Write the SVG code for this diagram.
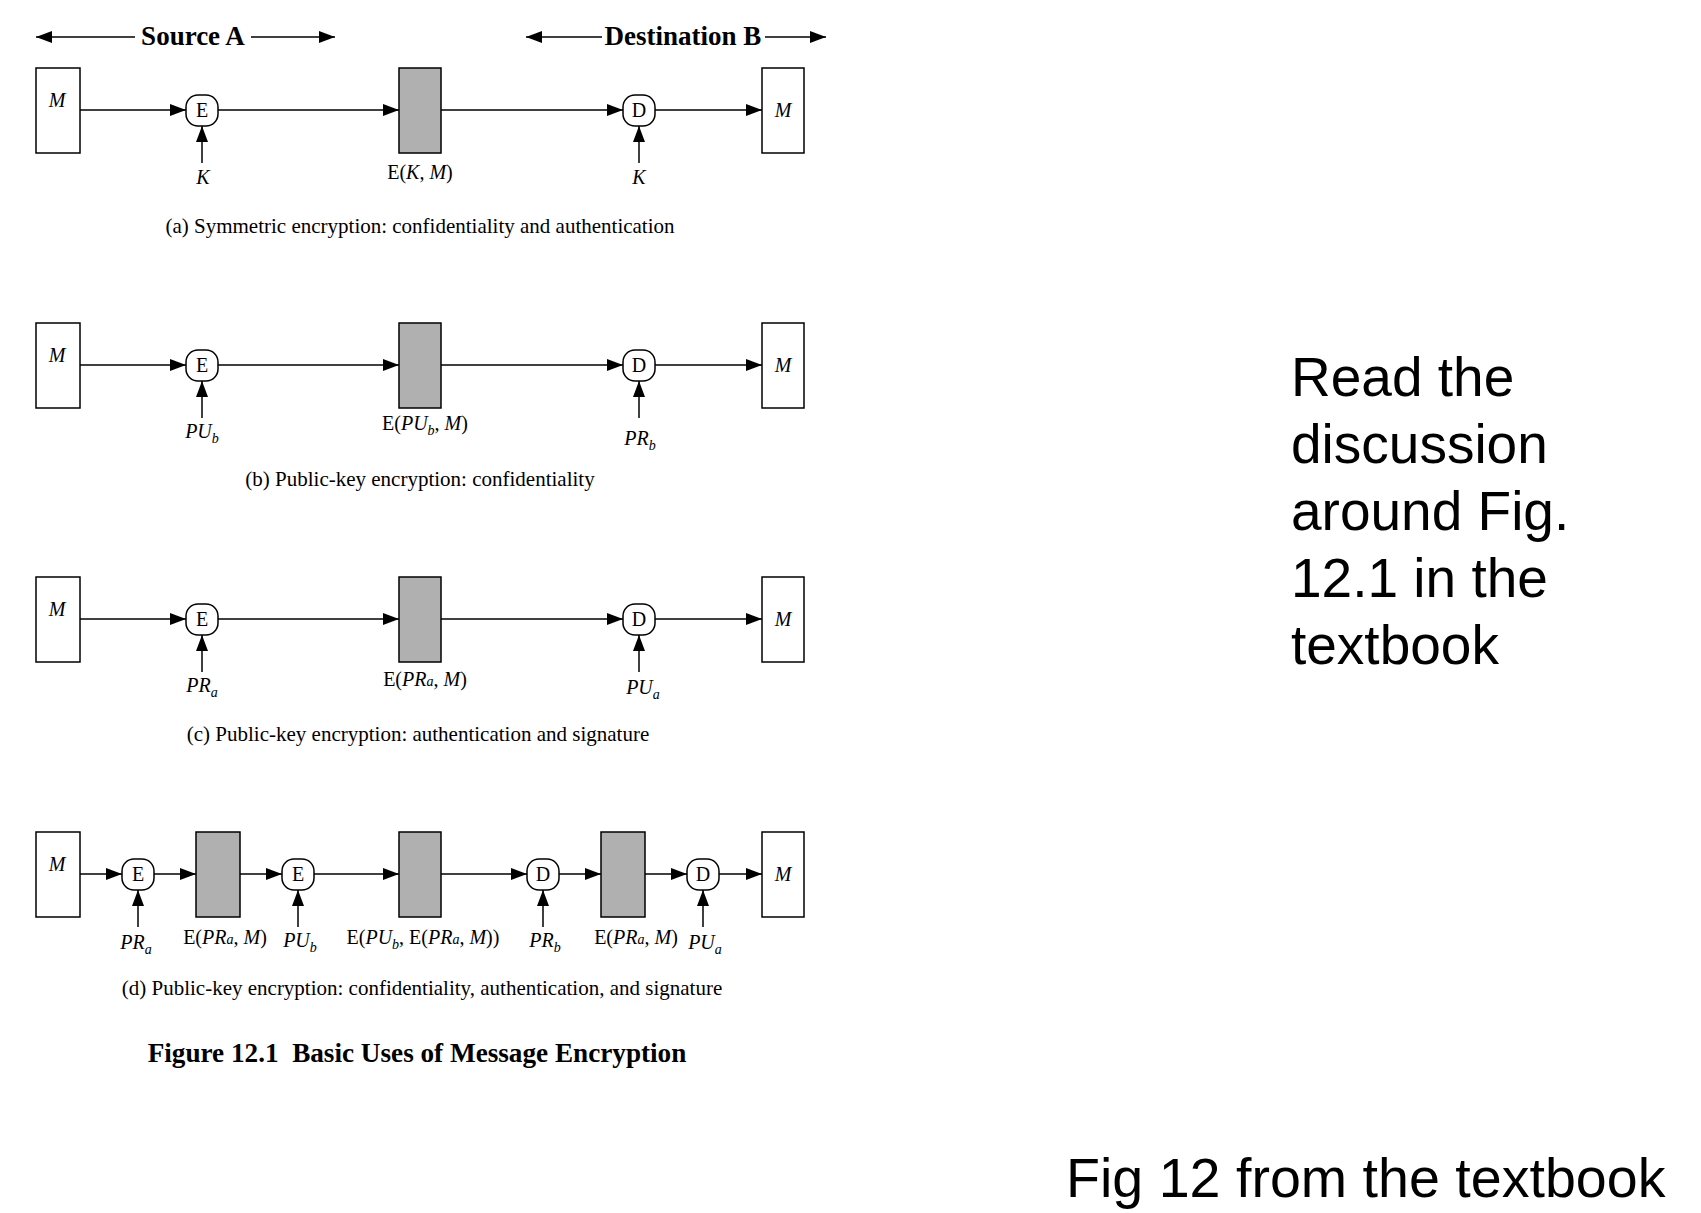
<svg xmlns="http://www.w3.org/2000/svg" width="1701" height="1213" viewBox="0 0 1701 1213">
<style>
.s{font-family:"Liberation Serif","Times New Roman",serif;fill:#000}
.lbl{font-size:20px}
.it{font-style:italic}
.sub{font-size:14px;font-style:italic}
.cap{font-size:21px}
.hdr{font-size:27px;font-weight:bold}
.ttl{font-size:27.2px;font-weight:bold}
.side{font-family:"Liberation Sans",Arial,sans-serif;font-size:55px;fill:#000}
.foot{font-family:"Liberation Sans",Arial,sans-serif;font-size:55.6px;fill:#000}
.box{fill:#fff;stroke:#000;stroke-width:1.5}
.gray{fill:#b0b0b0;stroke:#000;stroke-width:1.5}
.nd{fill:#fff;stroke:#000;stroke-width:1.5}
.ln{stroke:#000;stroke-width:1.5;fill:none;marker-end:url(#ah)}
.ls{stroke:#000;stroke-width:1.5;fill:none;marker-start:url(#ahs)}
</style>
<defs>
<marker id="ah" markerUnits="userSpaceOnUse" markerWidth="17" markerHeight="13" refX="16" refY="6" orient="auto"><path d="M0,0 L16,6 L0,12 z" fill="#000"/></marker>
<marker id="ahs" markerUnits="userSpaceOnUse" markerWidth="17" markerHeight="13" refX="16" refY="6" orient="auto-start-reverse"><path d="M0,0 L16,6 L0,12 z" fill="#000"/></marker>
</defs>
<rect width="1701" height="1213" fill="#fff"/>

<g id="connectors">
<line class="ls" x1="36" y1="37" x2="135" y2="37"/>
<line class="ln" x1="251" y1="37" x2="335" y2="37"/>
<line class="ls" x1="526" y1="37" x2="602" y2="37"/>
<line class="ln" x1="765" y1="37" x2="826" y2="37"/>
<line class="ln" x1="80" y1="110" x2="186" y2="110"/>
<line class="ln" x1="218" y1="110" x2="399" y2="110"/>
<line class="ln" x1="441" y1="110" x2="623" y2="110"/>
<line class="ln" x1="655" y1="110" x2="762" y2="110"/>
<line class="ln" x1="202" y1="163" x2="202" y2="126"/>
<line class="ln" x1="639" y1="163" x2="639" y2="126"/>
<line class="ln" x1="80" y1="365" x2="186" y2="365"/>
<line class="ln" x1="218" y1="365" x2="399" y2="365"/>
<line class="ln" x1="441" y1="365" x2="623" y2="365"/>
<line class="ln" x1="655" y1="365" x2="762" y2="365"/>
<line class="ln" x1="202" y1="418" x2="202" y2="381"/>
<line class="ln" x1="639" y1="418" x2="639" y2="381"/>
<line class="ln" x1="80" y1="619" x2="186" y2="619"/>
<line class="ln" x1="218" y1="619" x2="399" y2="619"/>
<line class="ln" x1="441" y1="619" x2="623" y2="619"/>
<line class="ln" x1="655" y1="619" x2="762" y2="619"/>
<line class="ln" x1="202" y1="672" x2="202" y2="635"/>
<line class="ln" x1="639" y1="672" x2="639" y2="635"/>
<line class="ln" x1="80" y1="874" x2="122" y2="874"/>
<line class="ln" x1="154" y1="874" x2="196" y2="874"/>
<line class="ln" x1="240" y1="874" x2="282" y2="874"/>
<line class="ln" x1="314" y1="874" x2="399" y2="874"/>
<line class="ln" x1="441" y1="874" x2="527" y2="874"/>
<line class="ln" x1="559" y1="874" x2="601" y2="874"/>
<line class="ln" x1="645" y1="874" x2="687" y2="874"/>
<line class="ln" x1="719" y1="874" x2="762" y2="874"/>
<line class="ln" x1="138" y1="927" x2="138" y2="890"/>
<line class="ln" x1="298" y1="927" x2="298" y2="890"/>
<line class="ln" x1="543" y1="927" x2="543" y2="890"/>
<line class="ln" x1="703" y1="927" x2="703" y2="890"/>
</g>

<g id="header">
<text class="s hdr" x="193" y="45" text-anchor="middle">Source A</text>
<text class="s hdr" x="683" y="45" text-anchor="middle">Destination B</text>
</g>

<g id="a-src-M"><rect class="box" x="36" y="68" width="44" height="85"/><text class="s lbl it" x="57" y="107" text-anchor="middle">M</text></g>
<g id="a-E"><rect class="nd" x="186" y="95" width="32" height="31" rx="12"/><text class="s lbl" x="202" y="117" text-anchor="middle">E</text></g>
<g id="a-cipher"><rect class="gray" x="399" y="68" width="42" height="85"/></g>
<g id="a-D"><rect class="nd" x="623" y="95" width="32" height="31" rx="12"/><text class="s lbl" x="639" y="117" text-anchor="middle">D</text></g>
<g id="a-dst-M"><rect class="box" x="762" y="68" width="42" height="85"/><text class="s lbl it" x="783" y="117" text-anchor="middle">M</text></g>
<g id="a-labels">
<text class="s lbl it" x="203" y="184" text-anchor="middle">K</text>
<text class="s lbl" x="420" y="179" text-anchor="middle">E(<tspan class="it">K</tspan>, <tspan class="it">M</tspan>)</text>
<text class="s lbl it" x="639" y="184" text-anchor="middle">K</text>
<text class="s cap" x="420" y="233" text-anchor="middle">(a) Symmetric encryption: confidentiality and authentication</text>
</g>

<g id="b-src-M"><rect class="box" x="36" y="323" width="44" height="85"/><text class="s lbl it" x="57" y="362" text-anchor="middle">M</text></g>
<g id="b-E"><rect class="nd" x="186" y="350" width="32" height="31" rx="12"/><text class="s lbl" x="202" y="372" text-anchor="middle">E</text></g>
<g id="b-cipher"><rect class="gray" x="399" y="323" width="42" height="85"/></g>
<g id="b-D"><rect class="nd" x="623" y="350" width="32" height="31" rx="12"/><text class="s lbl" x="639" y="372" text-anchor="middle">D</text></g>
<g id="b-dst-M"><rect class="box" x="762" y="323" width="42" height="85"/><text class="s lbl it" x="783" y="372" text-anchor="middle">M</text></g>
<g id="b-labels">
<text class="s lbl it" x="202" y="438" text-anchor="middle">PU<tspan class="sub" dy="5">b</tspan></text>
<text class="s lbl" x="425" y="430" text-anchor="middle">E(<tspan class="it">PU</tspan><tspan class="sub" dy="5">b</tspan><tspan dy="-5">, </tspan><tspan class="it">M</tspan>)</text>
<text class="s lbl it" x="640" y="445" text-anchor="middle">PR<tspan class="sub" dy="5">b</tspan></text>
<text class="s cap" x="420" y="486" text-anchor="middle">(b) Public-key encryption: confidentiality</text>
</g>

<g id="c-src-M"><rect class="box" x="36" y="577" width="44" height="85"/><text class="s lbl it" x="57" y="616" text-anchor="middle">M</text></g>
<g id="c-E"><rect class="nd" x="186" y="604" width="32" height="31" rx="12"/><text class="s lbl" x="202" y="626" text-anchor="middle">E</text></g>
<g id="c-cipher"><rect class="gray" x="399" y="577" width="42" height="85"/></g>
<g id="c-D"><rect class="nd" x="623" y="604" width="32" height="31" rx="12"/><text class="s lbl" x="639" y="626" text-anchor="middle">D</text></g>
<g id="c-dst-M"><rect class="box" x="762" y="577" width="42" height="85"/><text class="s lbl it" x="783" y="626" text-anchor="middle">M</text></g>
<g id="c-labels">
<text class="s lbl it" x="202" y="692" text-anchor="middle">PR<tspan class="sub" dy="5">a</tspan></text>
<text class="s lbl" x="425" y="686" text-anchor="middle">E(<tspan class="it">PR</tspan><tspan class="sub">a</tspan>, <tspan class="it">M</tspan>)</text>
<text class="s lbl it" x="643" y="694" text-anchor="middle">PU<tspan class="sub" dy="5">a</tspan></text>
<text class="s cap" x="418" y="741" text-anchor="middle">(c) Public-key encryption: authentication and signature</text>
</g>

<g id="d-src-M"><rect class="box" x="36" y="832" width="44" height="85"/><text class="s lbl it" x="57" y="871" text-anchor="middle">M</text></g>
<g id="d-E1"><rect class="nd" x="122" y="859" width="32" height="31" rx="12"/><text class="s lbl" x="138" y="881" text-anchor="middle">E</text></g>
<g id="d-cipher1"><rect class="gray" x="196" y="832" width="44" height="85"/></g>
<g id="d-E2"><rect class="nd" x="282" y="859" width="32" height="31" rx="12"/><text class="s lbl" x="298" y="881" text-anchor="middle">E</text></g>
<g id="d-cipher2"><rect class="gray" x="399" y="832" width="42" height="85"/></g>
<g id="d-D1"><rect class="nd" x="527" y="859" width="32" height="31" rx="12"/><text class="s lbl" x="543" y="881" text-anchor="middle">D</text></g>
<g id="d-cipher3"><rect class="gray" x="601" y="832" width="44" height="85"/></g>
<g id="d-D2"><rect class="nd" x="687" y="859" width="32" height="31" rx="12"/><text class="s lbl" x="703" y="881" text-anchor="middle">D</text></g>
<g id="d-dst-M"><rect class="box" x="762" y="832" width="42" height="85"/><text class="s lbl it" x="783" y="881" text-anchor="middle">M</text></g>
<g id="d-labels">
<text class="s lbl it" x="136" y="949" text-anchor="middle">PR<tspan class="sub" dy="5">a</tspan></text>
<text class="s lbl" x="225" y="944" text-anchor="middle">E(<tspan class="it">PR</tspan><tspan class="sub">a</tspan>, <tspan class="it">M</tspan>)</text>
<text class="s lbl it" x="300" y="947" text-anchor="middle">PU<tspan class="sub" dy="5">b</tspan></text>
<text class="s lbl" x="423" y="944" text-anchor="middle">E(<tspan class="it">PU</tspan><tspan class="sub" dy="5">b</tspan><tspan dy="-5">, E(</tspan><tspan class="it">PR</tspan><tspan class="sub">a</tspan>, <tspan class="it">M</tspan>))</text>
<text class="s lbl it" x="545" y="947" text-anchor="middle">PR<tspan class="sub" dy="5">b</tspan></text>
<text class="s lbl" x="636" y="944" text-anchor="middle">E(<tspan class="it">PR</tspan><tspan class="sub">a</tspan>, <tspan class="it">M</tspan>)</text>
<text class="s lbl it" x="705" y="949" text-anchor="middle">PU<tspan class="sub" dy="5">a</tspan></text>
<text class="s cap" x="422" y="995" text-anchor="middle">(d) Public-key encryption: confidentiality, authentication, and signature</text>
</g>

<g id="figure-title">
<text class="s ttl" x="417" y="1062" text-anchor="middle" xml:space="preserve">Figure 12.1  Basic Uses of Message Encryption</text>
</g>

<g id="side-note">
<text class="side" x="1291" y="396">Read the</text>
<text class="side" x="1291" y="463">discussion</text>
<text class="side" x="1291" y="530">around Fig.</text>
<text class="side" x="1291" y="597">12.1 in the</text>
<text class="side" x="1291" y="664">textbook</text>
</g>
<g id="footer">
<text class="foot" x="1066" y="1197">Fig 12 from the textbook</text>
</g>
</svg>
